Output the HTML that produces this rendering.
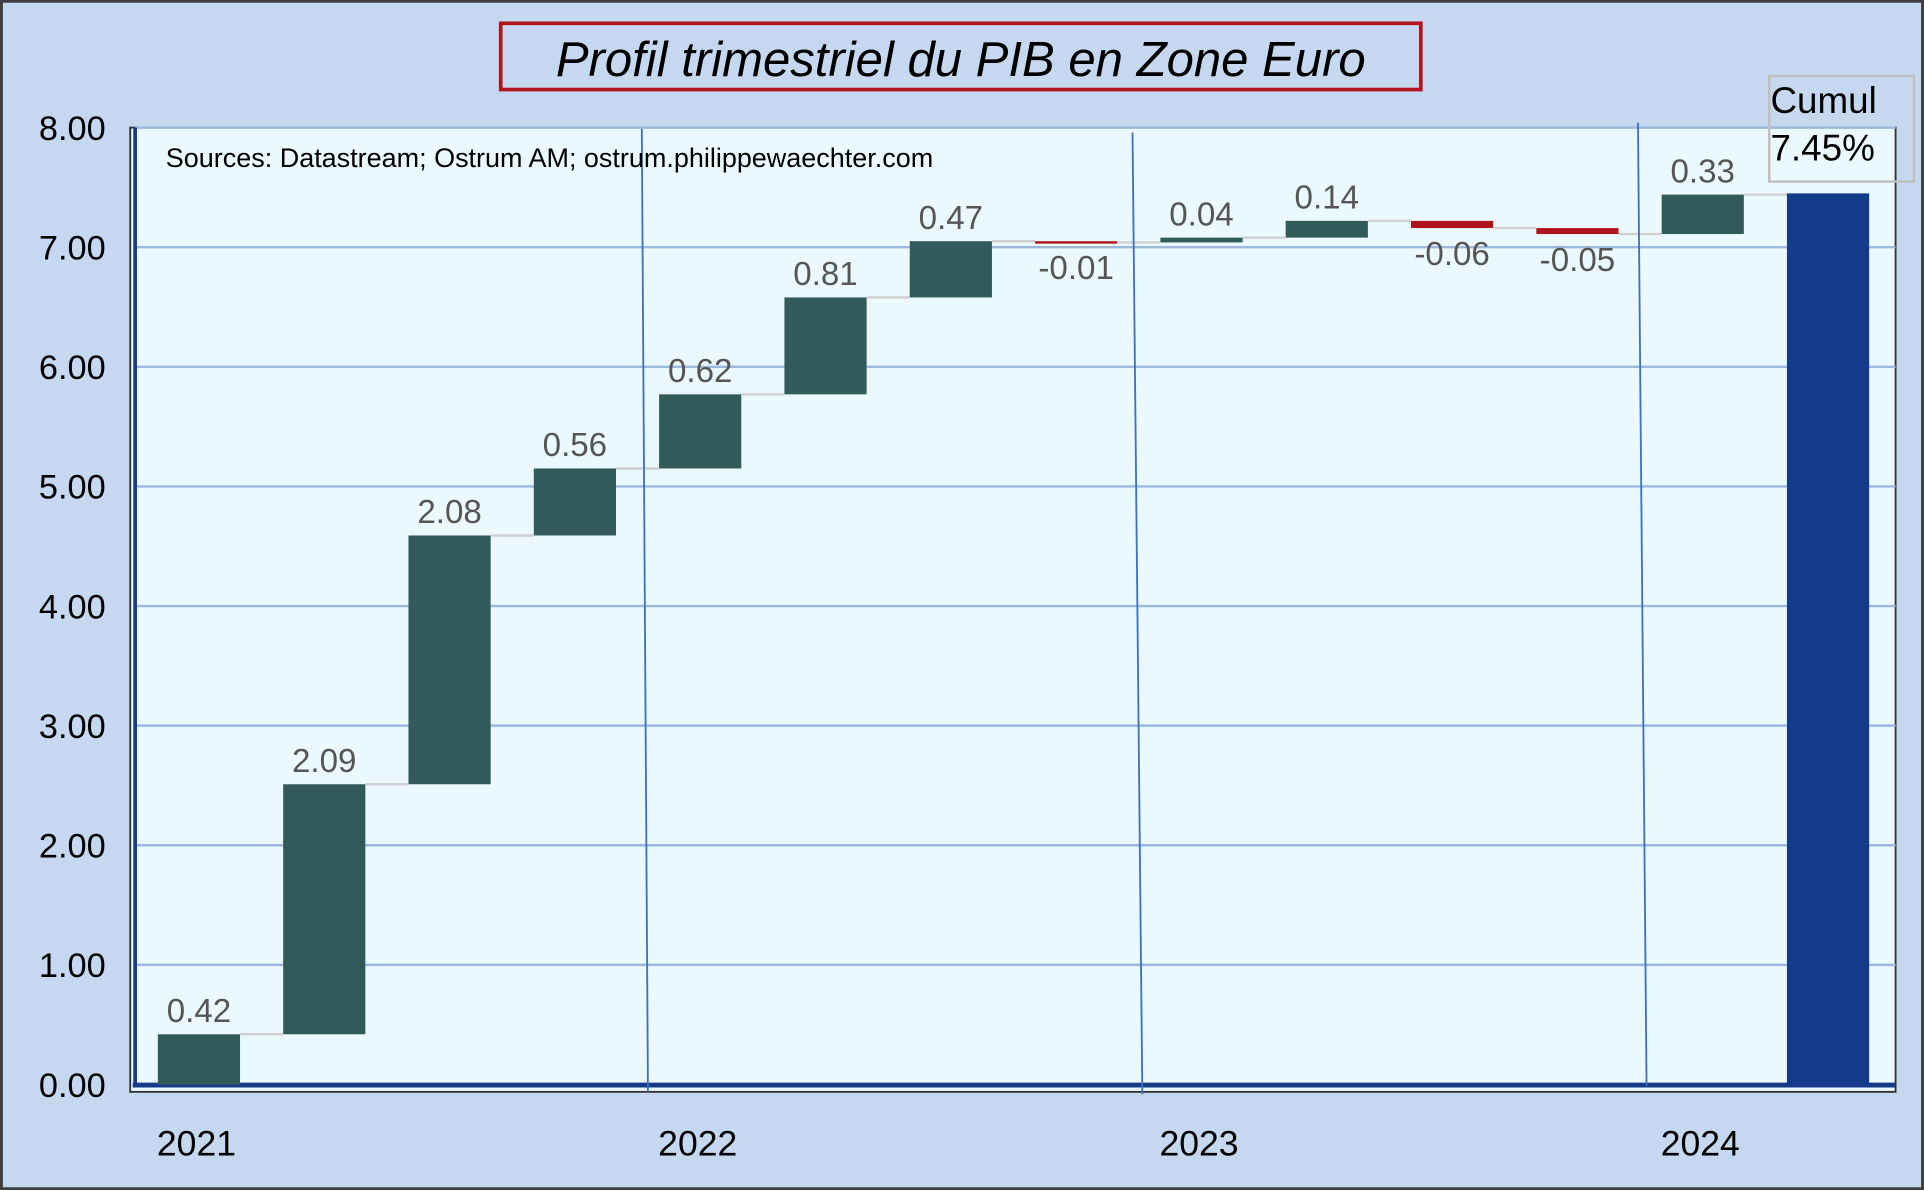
<!DOCTYPE html>
<html><head><meta charset="utf-8"><style>
html,body{margin:0;padding:0;background:#c5d8ef;}
svg{display:block;}
text{font-family:"Liberation Sans",sans-serif;}
</style></head><body>
<svg width="1924" height="1190" viewBox="0 0 1568 970" xmlns="http://www.w3.org/2000/svg">
<rect x="1" y="1" width="1566" height="968" fill="#c5d8ef" stroke="#404040" stroke-width="2.5"/>
<rect x="408" y="19" width="750" height="54" fill="#c5d8ef" stroke="#b0141c" stroke-width="3"/>
<text x="783" y="62" font-size="40" font-style="italic" text-anchor="middle" fill="#000">Profil trimestriel du PIB en Zone Euro</text>
<rect x="106" y="104" width="1439" height="786" fill="#ebf9fe" stroke="#303030" stroke-width="1.5"/>
<g id="grid"></g>
<line x1="110" y1="104" x2="110" y2="886" stroke="#143a8a" stroke-width="3"/>
<line x1="108" y1="884.5" x2="1545" y2="884.5" stroke="#143a8a" stroke-width="4"/>
<g id="bars"></g>
<line x1="523" y1="105" x2="528" y2="890" stroke="#3b73c0" stroke-width="1.5"/>
<line x1="923" y1="108" x2="931" y2="892" stroke="#3b73c0" stroke-width="1.5"/>
<line x1="1335" y1="100" x2="1342" y2="885" stroke="#3b73c0" stroke-width="1.5"/>
<text x="135" y="136" font-size="22" fill="#000">Sources: Datastream; Ostrum AM; ostrum.philippewaechter.com</text>
<rect x="1442" y="62" width="118" height="86" fill="none" stroke="#bfbfbf" stroke-width="2"/>
<text x="1443" y="92" font-size="30" fill="#000">Cumul</text>
<text x="1443" y="131" font-size="30" fill="#000">7.45%</text>
<g id="xlabels"></g>
</svg>
<script>
const categories = ["2021Q1","2021Q2","2021Q3","2021Q4","2022Q1","2022Q2","2022Q3","2022Q4","2023Q1","2023Q2","2023Q3","2023Q4","2024Q1","Cumul"];
const changes = [0.42,2.09,2.08,0.56,0.62,0.81,0.47,-0.01,0.04,0.14,-0.06,-0.05,0.33];
const totalValue = 7.45;
const yTicks = [0,1,2,3,4,5,6,7,8];
const yearLabels = ["2021","2022","2023","2024"];
const yearStartIndex = [0,4,8,12];

const NS="http://www.w3.org/2000/svg";
const y0=884, yScale=97.5;
const y = v => y0 - v*yScale;
const xc = i => 162 + i*102.15;
const bw = 67;
function mk(tag, attrs, parent){const e=document.createElementNS(NS,tag);for(const k in attrs)e.setAttribute(k,attrs[k]);parent.appendChild(e);return e;}
const svg=document.querySelector('svg');
const grid=document.getElementById('grid'), bars=document.getElementById('bars'), xl=document.getElementById('xlabels');
yTicks.forEach(t=>{
  if(t>0){const g=mk('line',{x1:110,x2:1545,y1:y(t),y2:y(t),stroke:'#9db8dc','stroke-width':2},grid);
  
  }
  const l=mk('text',{x:86,y:y(t)+10,'font-size':28,'text-anchor':'end',fill:'#000'},svg);
  l.textContent=t.toFixed(2);
  
  
});
let cum=0;
changes.forEach((c,i)=>{
  const start=cum, end=cum+c; cum=end;
  const top=y(Math.max(start,end)), bot=y(Math.min(start,end));
  const r=mk('rect',{x:xc(i)-bw/2,y:top,width:bw,height:Math.max(bot-top,2),fill:c>=0?'#335a5a':'#b0141c'},bars);
  
  
  const cn=mk('line',{x1:xc(i)+bw/2,x2:xc(i+1)-bw/2,y1:y(end),y2:y(end),stroke:'#d0d0d0','stroke-width':2},bars);
  
  
  const ly = c>=0 ? top-10 : bot+30;
  const t=mk('text',{x:xc(i),y:ly,'font-size':27,'text-anchor':'middle',fill:'#555'},bars);
  t.textContent=c.toFixed(2);
  
  
});
const ti=changes.length;
const tr=mk('rect',{x:xc(ti)-bw/2,y:y(totalValue),width:bw,height:y0-y(totalValue),fill:'#143a8a'},bars);


yearLabels.forEach((yl,k)=>{
  const t=mk('text',{x:xc(yearStartIndex[k])-2,y:942,'font-size':29,'text-anchor':'middle',fill:'#000'},xl);
  t.textContent=yl;
  
  
});
</script>
</body></html>
